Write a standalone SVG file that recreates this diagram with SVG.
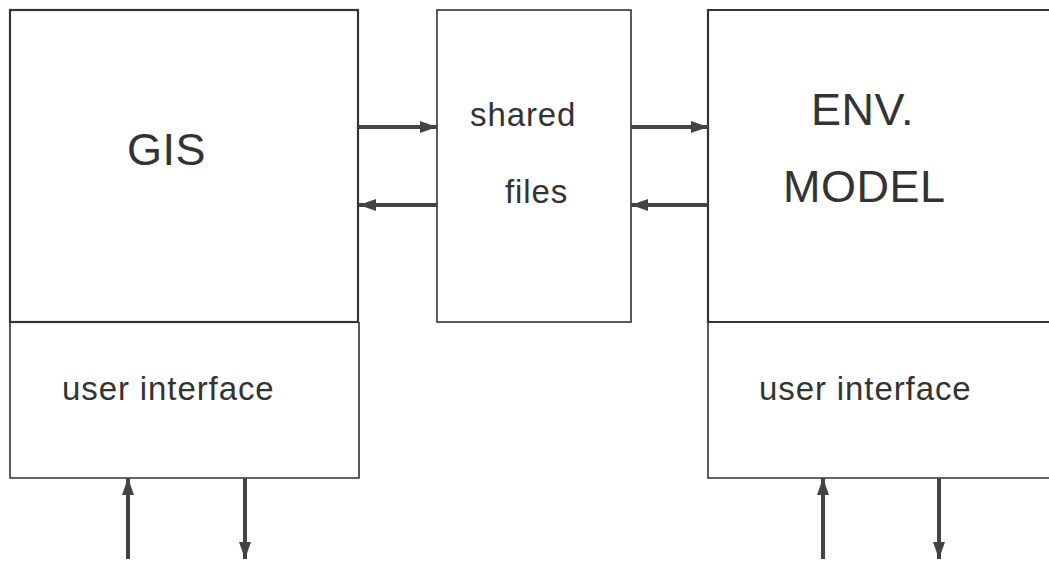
<svg xmlns="http://www.w3.org/2000/svg" width="1049" height="562" viewBox="0 0 1049 562">
<defs>
<marker id="ah" viewBox="0 0 17 12" refX="17" refY="6" markerWidth="17" markerHeight="12" orient="auto" markerUnits="userSpaceOnUse">
<path d="M0,0 L17,6 L0,12 z" fill="#444"/>
</marker>
</defs>
<style>
.box{fill:none;stroke:#333;stroke-width:2.2}
.thin{fill:none;stroke:#333;stroke-width:1.6}
.arr{stroke:#444;stroke-width:4;fill:none;marker-end:url(#ah)}
text{font-family:"Liberation Sans",Arial,sans-serif;fill:#333}
.big{font-size:45px;letter-spacing:0.5px}
.mid{font-size:33px;letter-spacing:0.9px}
</style>
<rect width="1049" height="562" fill="#fff"/>
<g id="gis">
<rect class="box" x="10" y="10" width="348" height="312"/>
<text class="big" x="127" y="165">GIS</text>
</g>
<g id="gis-ui">
<path class="thin" d="M10,322 L10,478 L359,478 L359,322"/>
<line class="box" x1="10" y1="322" x2="359" y2="322"/>
<text class="mid" x="62" y="400">user interface</text>
</g>
<g id="shared">
<rect class="thin" x="437" y="10" width="194" height="312"/>
<text class="mid" x="470" y="126">shared</text>
<text class="mid" x="505" y="203">files</text>
</g>
<g id="env">
<path class="box" d="M1052,10 L708,10 L708,322 L1052,322"/>
<text class="big" x="811" y="125">ENV.</text>
<text class="big" x="783" y="202">MODEL</text>
</g>
<g id="env-ui">
<path class="thin" d="M708,322 L708,478 L1052,478"/>
<text class="mid" x="759" y="400">user interface</text>
</g>
<g id="connectors">
<line class="arr" x1="359" y1="127" x2="437" y2="127"/>
<line class="arr" x1="437" y1="205" x2="359" y2="205"/>
<line class="arr" x1="631" y1="127" x2="708" y2="127"/>
<line class="arr" x1="708" y1="205" x2="631" y2="205"/>
<line class="arr" x1="128" y1="559" x2="128" y2="478"/>
<line class="arr" x1="245" y1="478" x2="245" y2="559"/>
<line class="arr" x1="823" y1="559" x2="823" y2="478"/>
<line class="arr" x1="939" y1="478" x2="939" y2="559"/>
</g>
</svg>
